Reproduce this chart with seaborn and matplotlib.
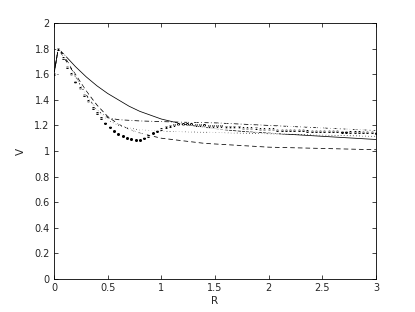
import numpy as np
import pandas as pd
import matplotlib
matplotlib.use("Agg")
import matplotlib.pyplot as plt
import seaborn as sns
from matplotlib.ticker import FuncFormatter

sns.set_style("ticks")
plt.rcParams['font.family'] = ['DejaVu Sans']

# ---- line series (R, V) ----
r_solid = [0, 0.04, 0.1, 0.2, 0.3, 0.4, 0.5, 0.6, 0.7, 0.8, 0.9, 1.0, 1.2, 1.4, 1.6, 1.8, 2.0, 2.4, 2.8, 3.0]
v_solid = [1.60, 1.80, 1.75, 1.66, 1.58, 1.51, 1.45, 1.40, 1.35, 1.31, 1.28, 1.25, 1.21, 1.185, 1.165, 1.15, 1.14, 1.12, 1.10, 1.09]

r_dash = [0, 0.04, 0.1, 0.2, 0.3, 0.4, 0.5, 0.6, 0.7, 0.8, 0.9, 1.0, 1.2, 1.4, 1.6, 2.0, 2.5, 3.0]
v_dash = [1.60, 1.80, 1.72, 1.60, 1.47, 1.36, 1.27, 1.21, 1.17, 1.14, 1.12, 1.10, 1.08, 1.06, 1.05, 1.03, 1.02, 1.01]

r_dashdot = [0, 0.04, 0.1, 0.2, 0.3, 0.4, 0.5, 0.6, 0.8, 1.0, 1.2, 1.5, 2.0, 2.5, 3.0]
v_dashdot = [1.60, 1.80, 1.74, 1.58, 1.44, 1.32, 1.26, 1.245, 1.235, 1.23, 1.225, 1.22, 1.20, 1.18, 1.16]

r_dot = [0, 0.04, 0.1, 0.2, 0.3, 0.4, 0.5, 0.6, 0.7, 0.8, 1.0, 1.5, 2.0, 2.5, 3.0]
v_dot = [1.60, 1.80, 1.74, 1.58, 1.44, 1.32, 1.24, 1.20, 1.18, 1.165, 1.155, 1.145, 1.135, 1.125, 1.115]

# ---- marker series on R = 0, 0.04, ..., 3.0 ----
r_mark = [round(0.04 * i, 2) for i in range(76)]

v_plus = [1.60, 1.80, 1.74, 1.67, 1.61, 1.55, 1.50, 1.45, 1.40, 1.35,
          1.31, 1.27, 1.23, 1.19, 1.16, 1.13, 1.10, 1.085, 1.075, 1.07,
          1.075, 1.09, 1.11, 1.135, 1.16, 1.18, 1.195, 1.21, 1.215, 1.22,
          1.22, 1.22, 1.218, 1.215,
          1.213, 1.211, 1.209, 1.207, 1.205, 1.203, 1.201, 1.199, 1.197, 1.195,
          1.193, 1.191, 1.189, 1.187, 1.185, 1.183, 1.181, 1.18, 1.178, 1.177,
          1.176, 1.175, 1.174, 1.173, 1.172, 1.171, 1.17, 1.169, 1.168, 1.167,
          1.166, 1.165, 1.164, 1.163, 1.162, 1.161, 1.16, 1.159, 1.158, 1.157,
          1.156, 1.155]

v_point = [1.60, 1.80, 1.73, 1.66, 1.60, 1.54, 1.49, 1.44, 1.39, 1.34,
           1.30, 1.26, 1.22, 1.19, 1.16, 1.135, 1.115, 1.10, 1.09, 1.085,
           1.088, 1.10, 1.12, 1.14, 1.16, 1.175, 1.188, 1.198, 1.204, 1.208,
           1.21, 1.21, 1.208, 1.205,
           1.203, 1.201, 1.199, 1.197, 1.195, 1.193, 1.191, 1.189, 1.187, 1.185,
           1.183, 1.181, 1.179, 1.177, 1.175, 1.173, 1.171, 1.17, 1.168, 1.167,
           1.165, 1.164, 1.163, 1.162, 1.161, 1.16, 1.159, 1.158, 1.157, 1.156,
           1.155, 1.154, 1.153, 1.152, 1.151, 1.15, 1.149, 1.148, 1.147, 1.146,
           1.145, 1.144]

v_circle = [1.60, 1.80, 1.74, 1.67, 1.61, 1.55, 1.50, 1.45, 1.40, 1.35,
            1.31, 1.27, 1.24, 1.21, 1.19, 1.17, 1.155, 1.14, 1.132, 1.127,
            1.126, 1.128, 1.133, 1.14, 1.148, 1.155, 1.16, 1.165, 1.168, 1.17,
            1.171, 1.171, 1.171, 1.17,
            1.17, 1.169, 1.168, 1.168, 1.167, 1.166, 1.166, 1.165, 1.164, 1.164,
            1.163, 1.162, 1.162, 1.161, 1.16, 1.16, 1.159, 1.158, 1.158, 1.157,
            1.156, 1.156, 1.155, 1.154, 1.154, 1.153, 1.152, 1.152, 1.151, 1.15,
            1.15, 1.149, 1.148, 1.148, 1.147, 1.146, 1.146, 1.145, 1.144, 1.144,
            1.143, 1.142]

v_tri = [1.60, 1.80, 1.74, 1.68, 1.62, 1.56, 1.51, 1.46, 1.41, 1.37,
         1.33, 1.29, 1.26, 1.235, 1.215, 1.20, 1.19, 1.182, 1.177, 1.175,
         1.175, 1.176, 1.178, 1.181, 1.184, 1.187, 1.19, 1.192, 1.193, 1.194,
         1.194, 1.194, 1.193, 1.193,
         1.192, 1.191, 1.191, 1.19, 1.189, 1.188, 1.188, 1.187, 1.186, 1.186,
         1.185, 1.184, 1.184, 1.183, 1.182, 1.182, 1.181, 1.18, 1.18, 1.179,
         1.178, 1.178, 1.177, 1.176, 1.176, 1.175, 1.174, 1.174, 1.173, 1.172,
         1.172, 1.171, 1.17, 1.17, 1.169, 1.168, 1.168, 1.167, 1.166, 1.166,
         1.165, 1.164]

x_ticks = [0, 0.5, 1, 1.5, 2, 2.5, 3]
y_ticks = [0, 0.2, 0.4, 0.6, 0.8, 1, 1.2, 1.4, 1.6, 1.8, 2]

fig = plt.figure(figsize=(4.15, 3.12), dpi=100)
ax = fig.add_axes([0.130, 0.106, 0.776, 0.820])

lw = 0.55
sns.lineplot(x=r_solid, y=v_solid, ax=ax, color='k', linewidth=lw, linestyle='-')
sns.lineplot(x=r_dash, y=v_dash, ax=ax, color='k', linewidth=lw, linestyle=(0, (6, 4)))
sns.lineplot(x=r_dashdot, y=v_dashdot, ax=ax, color='k', linewidth=lw, linestyle=(0, (6, 3, 1, 3)))
sns.lineplot(x=r_dot, y=v_dot, ax=ax, color='k', linewidth=lw, linestyle=(0, (1, 3)))

sns.lineplot(x=r_mark, y=v_plus, ax=ax, color='k', linestyle='', marker='+', markersize=3.6, markeredgewidth=0.6)
sns.lineplot(x=r_mark, y=v_point, ax=ax, color='k', linestyle='', marker='o', markersize=2.2, markeredgewidth=0)
sns.lineplot(x=r_mark, y=v_circle, ax=ax, color='k', linestyle='', marker='o', markersize=3.2,
             markerfacecolor='none', markeredgewidth=0.5)
sns.lineplot(x=r_mark, y=v_tri, ax=ax, color='k', linestyle='', marker='^', markersize=3.2,
             markerfacecolor='none', markeredgewidth=0.5)

ax.set_xlim(0, 3)
ax.set_ylim(0, 2)
ax.set_xticks(x_ticks)
ax.set_yticks(y_ticks)
ax.xaxis.set_major_formatter(FuncFormatter(lambda v, p: f"{v:g}"))
ax.yaxis.set_major_formatter(FuncFormatter(lambda v, p: f"{v:g}"))
ax.tick_params(direction='in', length=3, width=0.6, labelsize=7, top=True, right=True, pad=3)
for s in ax.spines.values():
    s.set_visible(True)
    s.set_linewidth(0.6)
    s.set_color('k')
ax.set_xlabel('R', fontsize=7.5, labelpad=2)
ax.set_ylabel('V', fontsize=7.5, labelpad=6)
ax.grid(False)

fig.savefig('out.png', dpi=100)
